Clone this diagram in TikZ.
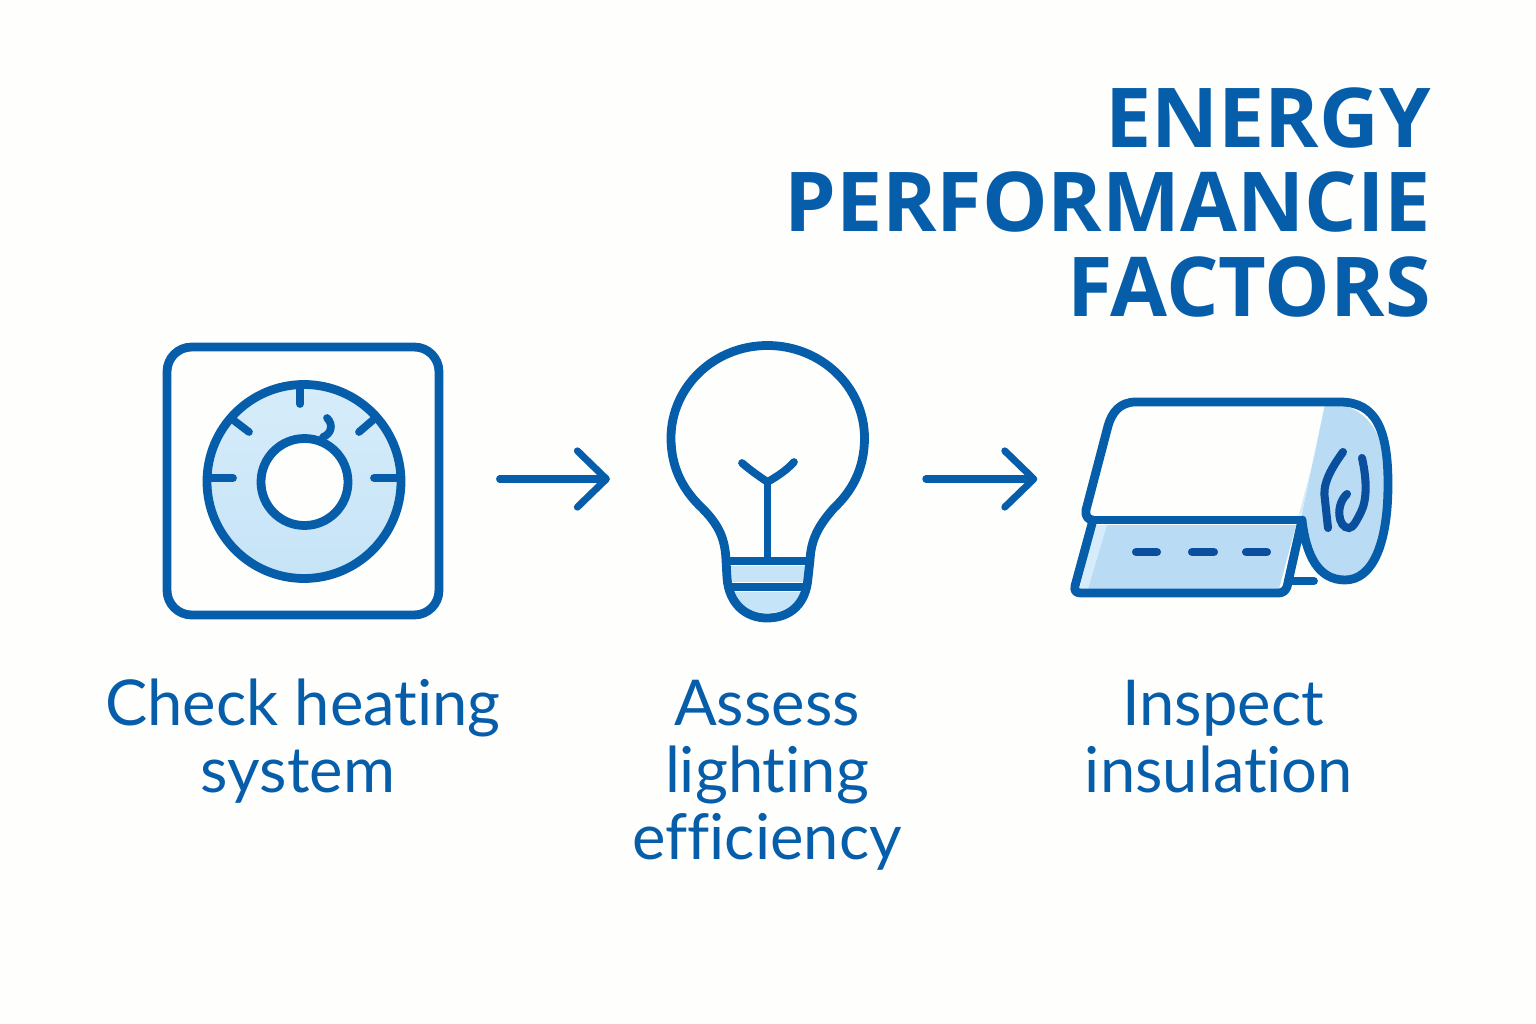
\documentclass[tikz,border=0pt]{standalone}
\usepackage{fontspec}
\setmainfont{Lato}[Ligatures=CommonOff]
\newfontfamily\titlefont{Open Sans}
\usetikzlibrary{arrows.meta}
\definecolor{mainblue}{HTML}{065EAB}
\definecolor{darkblue}{HTML}{0A4F9E}
\definecolor{lightblue}{HTML}{C6E4F7}
\definecolor{rollblue}{HTML}{B9DCF4}
\definecolor{paleblue}{HTML}{D6ECFA}
\definecolor{paper}{HTML}{FEFEFD}
\tikzset{
  outline/.style = {draw=mainblue, line width=5pt, line join=round, line cap=round},
  thinline/.style = {draw=mainblue, line width=4.4pt, line cap=round},
  swirl/.style = {draw=darkblue, line width=4.6pt, line cap=round},
  titleline/.style = {anchor=base east, text=mainblue, font=\fontsize{47}{47}\selectfont\titlefont\bfseries, inner sep=0pt},
  steplabel/.style = {anchor=base, text=mainblue, font=\fontsize{36}{38}\selectfont, inner sep=0pt},
  iconbox/.style = {minimum width=5.44cm, minimum height=5.36cm, inner sep=0pt},
  flow/.style = {draw=mainblue, line width=4pt, line cap=round, -{Straight Barb[length=16.5pt, width=32pt, round]}}
}
\begin{document}
\begin{tikzpicture}[x=0.02cm, y=-0.02cm]
\useasboundingbox[fill=paper] (0,0) rectangle (1536,1024);

\node[titleline] (titlea) at (1431,148) {ENERGY};
\node[titleline] (titleb) at (1431,232) {PERFORMANCIE};
\node[titleline] (titlec) at (1431,316) {FACTORS};

\node[iconbox, draw=mainblue, line width=5pt, rounded corners=14pt] (heater) at (303,481) {};
\filldraw[outline, top color=paleblue, bottom color=lightblue] (304,481.5) circle (97);
\filldraw[outline, fill=paper] (304.5,482) circle (43.5);
\draw[thinline] (300,384) -- (300,404);
\draw[thinline] (210,478) -- (233,478);
\draw[thinline] (374,478) -- (398,478);
\draw[thinline] (232,419) -- (249,432);
\draw[thinline] (373,420) -- (359,432);
\draw[thinline] (323,437) .. controls (331,434) and (334,425) .. (327,418);

\node[minimum width=3.86cm, minimum height=5.5cm, inner sep=0pt] (bulb) at (767.5,479) {};
\fill[lightblue] (730,566) rectangle (805,582);
\fill[lightblue] (733,592) -- (802,592) .. controls (796,606) and (782,613) .. (767,613) .. controls (752,613) and (739,606) .. (733,592) -- cycle;
\draw[outline] (671,438) .. controls (671,470) and (685,492) .. (702,508)
  .. controls (720,526) and (725,540) .. (726,560) -- (727,578)
  .. controls (729,604) and (746,618) .. (767,618)
  .. controls (790,618) and (806,604) .. (808,578) -- (810,560)
  .. controls (811,540) and (818,526) .. (834,508)
  .. controls (851,492) and (864.5,470) .. (864.5,438)
  .. controls (864.5,387) and (821,345.5) .. (767.5,345.5)
  .. controls (714,345.5) and (671,387) .. (671,438) -- cycle;
\draw[outline] (730,561) -- (806,561);
\draw[outline] (731,587) -- (804,587);
\draw[line width=4pt, mainblue, line cap=round] (767.5,482) -- (767.5,557);
\draw[thinline] (742,463) .. controls (750,470) and (760,477) .. (767.5,482) .. controls (776,477) and (786,471) .. (794,462);

\node[minimum width=6.3cm, minimum height=3.9cm, inner sep=0pt] (roll) at (1232,479) {};
\fill[rollblue] (1325,404) .. controls (1370,402) and (1388,440) .. (1388,490) .. controls (1388,545) and (1372,580) .. (1340,580) .. controls (1318,580) and (1305,555) .. (1302,520) -- (1302,513) -- cycle;
\fill[paleblue] (1325,404) -- (1302,513) -- (1298,518) -- (1314,458) -- cycle;
\fill[rollblue] (1095,525) -- (1296,525) -- (1279,589) -- (1080,589) -- cycle;
\fill[paleblue] (1095,525) -- (1107,525) -- (1088,589) -- (1080,589) -- cycle;
\draw[outline] (1093,520) -- (1302,520);
\draw[outline] (1302,520) .. controls (1306,555) and (1318,580) .. (1345,580)
  .. controls (1372,580) and (1388,545) .. (1388,484)
  .. controls (1388,430) and (1376,402) .. (1340,402) -- (1136,402)
  .. controls (1120,402) and (1112,412) .. (1108,426) -- (1086,510)
  .. controls (1085,516) and (1088,520) .. (1093,520) -- (1075,586)
  .. controls (1074,591) and (1076,593) .. (1081,593) -- (1278,593)
  .. controls (1283,593) and (1285,591) .. (1287,587) -- (1302,520);
\draw[thinline] (1293,581) -- (1314,581);
\draw[swirl] (1343,452) .. controls (1330,470) and (1322,485) .. (1325,500) -- (1328,528);
\draw[swirl] (1362,458) .. controls (1367,480) and (1367,500) .. (1361,512) .. controls (1357,520) and (1353,528) .. (1349,528) .. controls (1338,528) and (1335,505) .. (1347,494);
\draw[swirl] (1136,552) -- (1157,552);
\draw[swirl] (1192,552) -- (1214,552);
\draw[swirl] (1246,552) -- (1267,552);

\draw[flow, shorten <=32pt, shorten >=34.6pt] (heater.east |- bulb.west) -- (bulb.west);
\draw[flow, shorten <=35pt, shorten >=21pt] (bulb.east) -- (roll.west);

\node[steplabel] (heatinga) at (303,725) {Check heating};
\node[steplabel] (heatingb) at (298,792) {system};
\node[steplabel] (lighta) at (767,725) {Assess};
\node[steplabel] (lightb) at (767,792) {lighting};
\node[steplabel] (lightc) at (767,859) {efficiency};
\node[steplabel] (insula) at (1223,725) {Inspect};
\node[steplabel] (insulb) at (1219,792) {insulation};
\end{tikzpicture}
\end{document}
